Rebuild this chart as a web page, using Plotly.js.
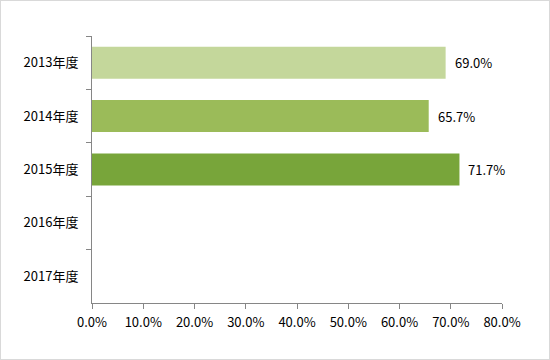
<!DOCTYPE html>
<html><head><meta charset="utf-8">
<script src="https://cdn.plot.ly/plotly-3.0.1.min.js"></script>
<style>
html,body{margin:0;padding:0;background:#fff;}
#frame{position:absolute;left:0;top:0;width:548px;height:358px;border:1px solid #d9d9d9;}
#chart{position:absolute;left:-1px;top:-1px;width:550px;height:360px;}
</style></head>
<body><div id="frame"><div id="chart"></div></div>
<script>
const categories = ['2013年度','2014年度','2015年度','2016年度','2017年度'];
const values = [69.0, 65.7, 71.7, null, null];
const barColors = ['#c4d79b','#9bbb59','#78a53a','#78a53a','#78a53a'];
const xTickVals = [0,10,20,30,40,50,60,70,80];
const xTickText = ['0.0%','10.0%','20.0%','30.0%','40.0%','50.0%','60.0%','70.0%','80.0%'];

const font = {family:'"Noto Sans CJK JP", "Noto Sans", sans-serif', size:13, color:'#000'};

const annotations = [];
categories.forEach((c,i)=>{
  if(values[i]!==null){
    annotations.push({x:values[i], y:c, xref:'x', yref:'y', text:values[i].toFixed(1)+'%',
      showarrow:false, xanchor:'left', xshift:7, font:font});
  }
});

Plotly.newPlot('chart',[{
  type:'bar', orientation:'h', y:categories, x:values,
  marker:{color:barColors}, hoverinfo:'none'
}],{
  width:550, height:360,
  margin:{l:92, r:48, t:36, b:57, pad:0},
  paper_bgcolor:'rgba(0,0,0,0)', plot_bgcolor:'rgba(0,0,0,0)',
  bargap:0.4, showlegend:false, font:font,
  xaxis:{range:[0,80], tickvals:xTickVals, ticktext:xTickText, showgrid:false, zeroline:false,
    showline:true, linecolor:'#868686', linewidth:1, ticks:'outside', ticklen:5, tickcolor:'#868686',
    tickfont:font, ticklabelstandoff:2, fixedrange:true},
  yaxis:{type:'category', categoryorder:'array', categoryarray:categories, autorange:'reversed',
    showgrid:false, zeroline:false, showline:true, linecolor:'#868686', linewidth:1,
    ticks:'outside', ticklen:5, tickcolor:'#868686', tickson:'boundaries', tickfont:font,
    ticklabelstandoff:10, fixedrange:true},
  annotations:annotations
},{displayModeBar:false, staticPlot:true});
</script></body></html>
